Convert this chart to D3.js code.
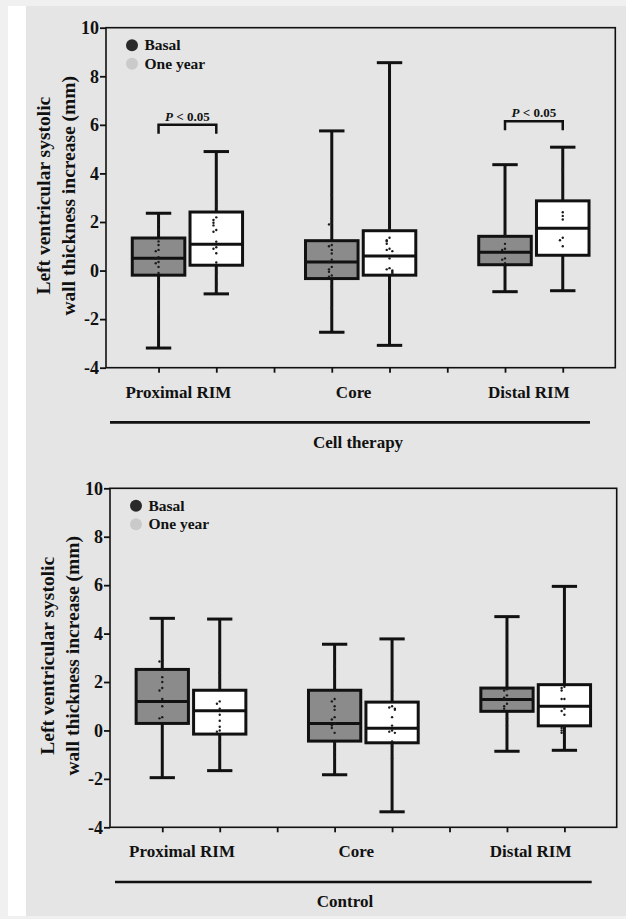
<!DOCTYPE html>
<head>
  <meta charset="utf-8">
  <script src="https://d3js.org/d3.v7.min.js"></script>
  <style type="text/css">
    body { margin:0; background:#f0f0f0; }
    svg text { font-family: "Liberation Serif", "Times New Roman", serif; font-weight: bold; fill: #111; }
    .axis path { display: none; }
    .axis line { stroke: #111; stroke-width: 1.8; }
    .whisker, .cap { stroke: #111; stroke-width: 3; }
    .box { stroke: #111; stroke-width: 3; }
    .median { stroke: #111; stroke-width: 3; }
    .dot { fill: #1a1a1a; }
    .bracket { fill: none; stroke: #111; stroke-width: 2.5; }
  </style>
</head>

<body>
  <script>
  // categories, series, ticks
  var categories = ["Proximal RIM", "Core", "Distal RIM"];
  var seriesNames = ["Basal", "One year"];
  var yTicks = [-4, -2, 0, 2, 4, 6, 8, 10];

  // box summaries per category: [min, q1, median, q3, max]
  var cellBasal   = [[-3.19, -0.19, 0.51, 1.34, 2.36], [-2.54, -0.33, 0.35, 1.23, 5.75], [-0.87, 0.24, 0.75, 1.41, 4.36]];
  var cellOneYear = [[-0.96, 0.22, 1.08, 2.41, 4.90], [-3.08, -0.19, 0.60, 1.64, 8.56], [-0.83, 0.63, 1.74, 2.87, 5.08]];
  var ctrlBasal   = [[-1.95, 0.29, 1.20, 2.52, 4.63], [-1.83, -0.44, 0.29, 1.66, 3.56], [-0.86, 0.79, 1.28, 1.75, 4.70]];
  var ctrlOneYear = [[-1.66, -0.15, 0.81, 1.66, 4.60], [-3.36, -0.51, 0.09, 1.17, 3.78], [-0.82, 0.19, 1.00, 1.89, 5.95]];

  // individual points per category
  var cellBasalPts = [
    [1.9, 1.7, 1.2, 1.05, 0.85, 0.8, 0.55, 0.5, 0.35, 0.3, 0.15, -0.1, -0.75, -1.7],
    [3.1, 2.15, 1.95, 1.9, 1.05, 1.0, 0.85, 0.7, 0.45, 0.35, 0.15, 0.05, -0.05, -0.2, -0.25, -0.65, -1.55],
    [1.45, 1.1, 0.9, 0.85, 0.5, 0.45, 0.3]
  ];
  var cellOneYearPts = [
    [2.9, 2.77, 2.63, 2.19, 2.08, 1.97, 1.86, 1.67, 1.6, 1.19, 0.96, 0.9, 0.71, 0.33, -0.07, -0.52],
    [1.7, 1.35, 1.25, 1.2, 1.1, 0.9, 0.85, 0.8, 0.5, 0.1, 0.05, 0.0, -0.05, -0.1, -0.15, -0.85],
    [4.15, 2.4, 2.25, 2.1, 1.35, 1.25, 1.0]
  ];
  var ctrlBasalPts = [
    [2.9, 2.85, 2.2, 2.0, 1.75, 1.65, 1.3, 1.0, 0.55, 0.5],
    [2.65, 2.1, 1.3, 1.2, 1.0, 0.85, 0.55, 0.45, 0.3, 0.2, 0.1, -0.1, -0.5, -0.7, -0.9, -1.1],
    [3.5, 1.7, 1.65, 1.45, 1.35, 1.3, 1.1, 1.0, 0.9, 0.5, 0.2]
  ];
  var ctrlOneYearPts = [
    [2.4, 1.2, 1.1, 0.9, 0.65, 0.4, 0.15, 0.0, -0.05, -0.55],
    [1.65, 1.0, 0.95, 0.9, 0.85, 0.55, 0.2, 0.0, -0.05, -0.1, -0.45, -0.65, -1.15],
    [2.1, 1.8, 1.75, 1.65, 1.3, 1.3, 0.9, 0.8, 0.65, 0.15, 0.1, 0.0, -0.1, -0.25]
  ];

  // significance brackets (category index, bracket height)
  var cellSig = [{cat: 0, y: 6.0}, {cat: 2, y: 6.15}];
  var ctrlSig = [];

  var seriesFill = ["#8b8b8b", "#ffffff"];
  var legendColor = ["#2a2a2a", "#cacaca"];

  var W = 626, H = 919;
  var svg = d3.select("body").append("svg")
    .attr("width", W)
    .attr("height", H)
    .style("display", "block");

  // page frame
  svg.append("rect").attr("x", 0).attr("y", 0).attr("width", W).attr("height", H).attr("fill", "#f0f0f0");
  svg.append("rect").attr("x", 8).attr("y", 6).attr("width", W - 8).attr("height", 910).attr("fill", "#ffffff");
  svg.append("rect").attr("x", 26).attr("y", 6).attr("width", W - 26).attr("height", 910).attr("fill", "#e5e5e5");

  function drawPanel(p) {
    var x = d3.scaleLinear().domain([-0.91, 7.91]).range([p.left, p.right]);
    var y = d3.scaleLinear().domain([-4, 10]).range([p.bottom, p.top]);
    var g = svg.append("g");
    var unit = x(1) - x(0);
    var boxW = 0.91 * unit, capW = 0.44 * unit;

    // frame
    g.append("rect")
      .attr("x", p.left).attr("y", p.top)
      .attr("width", p.right - p.left).attr("height", p.bottom - p.top)
      .attr("fill", "none").attr("stroke", "#111").attr("stroke-width", 1.6);

    var ya = g.append("g")
      .attr("class", "axis")
      .attr("transform", "translate(" + p.left + ",0)")
      .call(d3.axisLeft(y).tickValues(yTicks).tickSize(6).tickPadding(1).tickFormat(function(d) { return String(d); }));
    ya.selectAll("text")
      .style("font-size", "18px")
      .style("font-family", "'Liberation Serif', serif")
      .style("font-weight", "bold")
      .attr("fill", "#111");

    g.append("g")
      .attr("class", "axis")
      .attr("transform", "translate(0," + p.bottom + ")")
      .call(d3.axisBottom(x).tickValues(d3.range(8)).tickSize(5).tickFormat(""));

    // y title
    var tcy = (p.top + p.bottom) / 2 - 2;
    g.append("text")
      .attr("transform", "translate(" + (p.left - 56.5) + "," + tcy + ") rotate(-90)")
      .attr("text-anchor", "middle")
      .style("font-size", "19.5px")
      .text("Left ventricular systolic");
    g.append("text")
      .attr("transform", "translate(" + (p.left - 31.5) + "," + tcy + ") rotate(-90)")
      .attr("text-anchor", "middle")
      .style("font-size", "19.5px")
      .text("wall thickness increase (mm)");

    // legend
    seriesNames.forEach(function(s, i) {
      var cy = p.top + 17.5 + i * 18.5;
      g.append("circle").attr("cx", p.left + 26).attr("cy", cy).attr("r", 6).attr("fill", legendColor[i]);
      g.append("text").attr("x", p.left + 38.5).attr("y", cy + 5).style("font-size", "15.5px").text(s);
    });

    // boxes
    [p.basal, p.oneYear].forEach(function(series, si) {
      var pts = si === 0 ? p.basalPts : p.oneYearPts;
      series.forEach(function(d, ci) {
        var cx = x(ci * 3 + si);
        g.append("line").attr("class", "whisker")
          .attr("x1", cx).attr("x2", cx).attr("y1", y(d[0])).attr("y2", y(d[4]));
        [d[0], d[4]].forEach(function(v) {
          g.append("line").attr("class", "cap")
            .attr("x1", cx - capW / 2).attr("x2", cx + capW / 2).attr("y1", y(v)).attr("y2", y(v));
        });
        g.append("rect").attr("class", "box")
          .attr("x", cx - boxW / 2).attr("width", boxW)
          .attr("y", y(d[3])).attr("height", y(d[1]) - y(d[3]))
          .attr("fill", seriesFill[si]);
        g.append("line").attr("class", "median")
          .attr("x1", cx - boxW / 2).attr("x2", cx + boxW / 2).attr("y1", y(d[2])).attr("y2", y(d[2]));

        // simple swarm: spread points that sit close to each other
        var placed = [];
        pts[ci].slice().sort(d3.descending).forEach(function(v) {
          var k = placed.filter(function(u) { return Math.abs(u - v) < 0.12; }).length;
          placed.push(v);
          var off = (k === 0 ? 0 : (k % 2 ? -1 : 1) * Math.ceil(k / 2) * 2.8);
          g.append("circle").attr("class", "dot")
            .attr("cx", cx + off).attr("cy", y(v)).attr("r", 1.2);
        });
      });
    });

    // significance
    p.sig.forEach(function(s) {
      var x1 = x(s.cat * 3), x2 = x(s.cat * 3 + 1), yy = y(s.y), leg = 9;
      g.append("path").attr("class", "bracket")
        .attr("d", "M" + x1 + "," + (yy + leg) + "V" + yy + "H" + x2 + "V" + (yy + leg));
      var t = g.append("text").attr("x", (x1 + x2) / 2).attr("y", yy - 4)
        .attr("text-anchor", "middle").style("font-size", "13px");
      t.append("tspan").style("font-style", "italic").text("P");
      t.append("tspan").text(" < 0.05");
    });

    // category labels
    var nudge = [-9, -7, -5];
    categories.forEach(function(c, i) {
      g.append("text")
        .attr("x", x(i * 3 + 0.5) + nudge[i])
        .attr("y", p.bottom + 30)
        .attr("text-anchor", "middle")
        .style("font-size", "17px")
        .text(c);
    });

    // group line and label
    g.append("line")
      .attr("x1", p.lineX[0]).attr("x2", p.lineX[1])
      .attr("y1", p.bottom + 54.7).attr("y2", p.bottom + 54.7)
      .attr("stroke", "#111").attr("stroke-width", 2.6);
    g.append("text")
      .attr("x", p.labelX).attr("y", p.bottom + 80)
      .attr("text-anchor", "middle")
      .style("font-size", "17px")
      .text(p.label);
  }

  drawPanel({left: 106, right: 615.3, top: 27.7, bottom: 367.7,
    basal: cellBasal, oneYear: cellOneYear, basalPts: cellBasalPts, oneYearPts: cellOneYearPts,
    sig: cellSig, label: "Cell therapy", labelX: 358, lineX: [110, 590]});

  drawPanel({left: 110, right: 616.7, top: 488.3, bottom: 827.3,
    basal: ctrlBasal, oneYear: ctrlOneYear, basalPts: ctrlBasalPts, oneYearPts: ctrlOneYearPts,
    sig: ctrlSig, label: "Control", labelX: 345, lineX: [115, 591.7]});
  </script>
</body>
